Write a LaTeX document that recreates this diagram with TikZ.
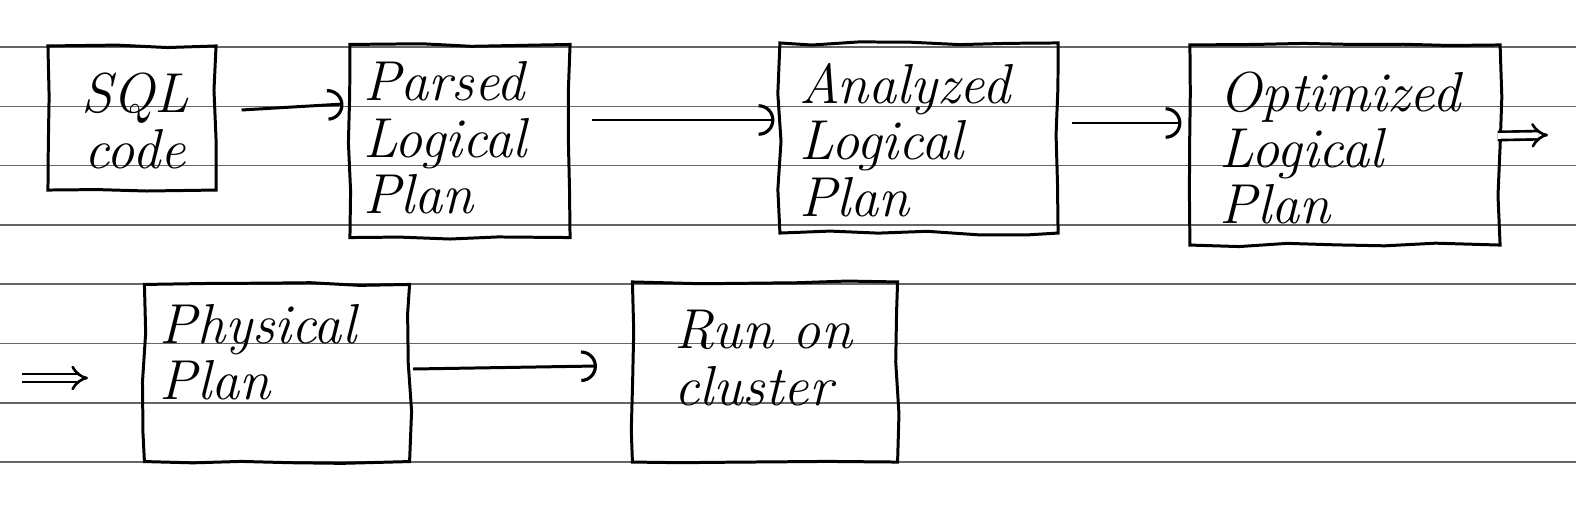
\documentclass[tikz,border=0pt]{standalone}
\usetikzlibrary{arrows.meta,decorations.pathmorphing}
\begin{document}
\begin{tikzpicture}[x=0.01cm, y=-0.01cm,
    rule/.style={black!60, line width=0.45pt},
    planbox/.style={draw, line width=0.85pt, inner sep=0pt, decorate,
        decoration={random steps, segment length=14pt, amplitude=0.6pt}},
    hand/.style={font=\fontsize{16}{16}\selectfont\itshape, align=left, inner sep=0pt},
    flow/.style={line width=0.85pt, -{Arc Barb[length=4.5pt, width=9pt, line width=0.9pt]}},
    next/.style={double, double distance=1.6pt, line width=0.75pt, -{Implies}}]
    \pgfmathsetseed{7}
    \useasboundingbox (0,0) rectangle (1576,506);
    \foreach \k in {0,...,7}
        \draw[rule] (0,{47+59.3*\k}) -- (1576,{47+59.3*\k});
    \node[planbox, minimum width=1.68cm, minimum height=1.44cm] (sql) at (132,118) {};
    \node[planbox, minimum width=2.20cm, minimum height=1.93cm] (parsed) at (460,141) {};
    \node[planbox, minimum width=2.78cm, minimum height=1.90cm] (analyzed) at (919,138) {};
    \node[planbox, minimum width=3.10cm, minimum height=2.00cm] (optimized) at (1345,145) {};
    \node[planbox, minimum width=2.65cm, minimum height=1.77cm] (physical) at (277,373) {};
    \node[planbox, minimum width=2.65cm, minimum height=1.80cm] (run) at (765,372) {};
    \node[hand, align=center] (sqltext) at (135,121) {SQL\\code};
    \node[hand] (parsedtext) at (445,138) {Parsed\\Logical\\Plan};
    \node[hand] (analyzedtext) at (905,140) {Analyzed\\Logical\\Plan};
    \node[hand] (optimizedtext) at (1340,148) {Optimized\\Logical\\Plan};
    \node[hand] (physicaltext) at (258,352) {Physical\\Plan};
    \node[hand] (runtext) at (763,358) {Run on\\cluster};
    \coordinate (rowend) at (1548,135);
    \coordinate (rowstart) at (22,378);
    \coordinate (rowin) at (88,378);
    \draw[flow] ([shift={(24,-8)}]sql.east) -- ([shift={(-5,-37)}]parsed.west);
    \draw[flow] ([shift={(20,-21)}]parsed.east) -- ([shift={(-4,-18)}]analyzed.west);
    \draw[flow] ([shift={(12,-15)}]analyzed.east) -- ([shift={(-7,-22)}]optimized.west);
    \draw[next] ([shift={(-4,-9)}]optimized.east) -- (rowend);
    \draw[next] (rowstart) -- (rowin);
    \draw[flow] ([shift={(2,-4)}]physical.east) -- ([shift={(-34,-6)}]run.west);
\end{tikzpicture}
\end{document}
